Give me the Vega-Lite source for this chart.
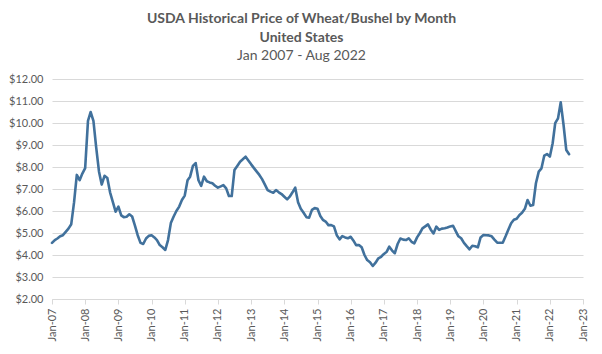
{
  "$schema": "https://vega.github.io/schema/vega-lite/v6.json",
  "autosize": {"type": "none"},
  "width": 531,
  "height": 220,
  "padding": {"left": 52, "top": 79, "right": 19, "bottom": 55},
  "background": "white",
  "title": {
    "text": ["USDA Historical Price of Wheat/Bushel by Month", "United States"],
    "subtitle": "Jan 2007 - Aug 2022",
    "font": "Lato",
    "subtitleFont": "Lato",
    "fontSize": 14,
    "subtitleFontSize": 14,
    "fontWeight": "bold",
    "subtitleFontWeight": "normal",
    "color": "#595959",
    "subtitleColor": "#595959",
    "lineHeight": 19,
    "subtitleLineHeight": 19,
    "subtitlePadding": 4,
    "anchor": "middle",
    "frame": "group",
    "dx": -16,
    "offset": 10
  },
  "config": {
    "view": {"stroke": null},
    "axis": {"labelFont": "Lato", "labelColor": "#595959", "labelFontSize": 11}
  },
  "data": {
    "values": [
      {"date": "2007-01-01T00:00:00", "price": 4.55},
      {"date": "2007-02-01T00:00:00", "price": 4.68},
      {"date": "2007-03-01T00:00:00", "price": 4.75},
      {"date": "2007-04-01T00:00:00", "price": 4.85},
      {"date": "2007-05-01T00:00:00", "price": 4.90},
      {"date": "2007-06-01T00:00:00", "price": 5.05},
      {"date": "2007-07-01T00:00:00", "price": 5.20},
      {"date": "2007-08-01T00:00:00", "price": 5.40},
      {"date": "2007-09-01T00:00:00", "price": 6.40},
      {"date": "2007-10-01T00:00:00", "price": 7.64},
      {"date": "2007-11-01T00:00:00", "price": 7.40},
      {"date": "2007-12-01T00:00:00", "price": 7.70},
      {"date": "2008-01-01T00:00:00", "price": 7.95},
      {"date": "2008-02-01T00:00:00", "price": 10.10},
      {"date": "2008-03-01T00:00:00", "price": 10.50},
      {"date": "2008-04-01T00:00:00", "price": 10.10},
      {"date": "2008-05-01T00:00:00", "price": 8.90},
      {"date": "2008-06-01T00:00:00", "price": 7.80},
      {"date": "2008-07-01T00:00:00", "price": 7.20},
      {"date": "2008-08-01T00:00:00", "price": 7.60},
      {"date": "2008-09-01T00:00:00", "price": 7.50},
      {"date": "2008-10-01T00:00:00", "price": 6.85},
      {"date": "2008-11-01T00:00:00", "price": 6.40},
      {"date": "2008-12-01T00:00:00", "price": 5.97},
      {"date": "2009-01-01T00:00:00", "price": 6.20},
      {"date": "2009-02-01T00:00:00", "price": 5.80},
      {"date": "2009-03-01T00:00:00", "price": 5.72},
      {"date": "2009-04-01T00:00:00", "price": 5.74},
      {"date": "2009-05-01T00:00:00", "price": 5.85},
      {"date": "2009-06-01T00:00:00", "price": 5.75},
      {"date": "2009-07-01T00:00:00", "price": 5.35},
      {"date": "2009-08-01T00:00:00", "price": 4.90},
      {"date": "2009-09-01T00:00:00", "price": 4.55},
      {"date": "2009-10-01T00:00:00", "price": 4.50},
      {"date": "2009-11-01T00:00:00", "price": 4.75},
      {"date": "2009-12-01T00:00:00", "price": 4.87},
      {"date": "2010-01-01T00:00:00", "price": 4.90},
      {"date": "2010-02-01T00:00:00", "price": 4.80},
      {"date": "2010-03-01T00:00:00", "price": 4.68},
      {"date": "2010-04-01T00:00:00", "price": 4.45},
      {"date": "2010-05-01T00:00:00", "price": 4.35},
      {"date": "2010-06-01T00:00:00", "price": 4.23},
      {"date": "2010-07-01T00:00:00", "price": 4.68},
      {"date": "2010-08-01T00:00:00", "price": 5.45},
      {"date": "2010-09-01T00:00:00", "price": 5.75},
      {"date": "2010-10-01T00:00:00", "price": 6.00},
      {"date": "2010-11-01T00:00:00", "price": 6.20},
      {"date": "2010-12-01T00:00:00", "price": 6.50},
      {"date": "2011-01-01T00:00:00", "price": 6.70},
      {"date": "2011-02-01T00:00:00", "price": 7.40},
      {"date": "2011-03-01T00:00:00", "price": 7.56},
      {"date": "2011-04-01T00:00:00", "price": 8.05},
      {"date": "2011-05-01T00:00:00", "price": 8.18},
      {"date": "2011-06-01T00:00:00", "price": 7.40},
      {"date": "2011-07-01T00:00:00", "price": 7.14},
      {"date": "2011-08-01T00:00:00", "price": 7.56},
      {"date": "2011-09-01T00:00:00", "price": 7.35},
      {"date": "2011-10-01T00:00:00", "price": 7.30},
      {"date": "2011-11-01T00:00:00", "price": 7.26},
      {"date": "2011-12-01T00:00:00", "price": 7.15},
      {"date": "2012-01-01T00:00:00", "price": 7.06},
      {"date": "2012-02-01T00:00:00", "price": 7.12},
      {"date": "2012-03-01T00:00:00", "price": 7.18},
      {"date": "2012-04-01T00:00:00", "price": 7.03},
      {"date": "2012-05-01T00:00:00", "price": 6.68},
      {"date": "2012-06-01T00:00:00", "price": 6.68},
      {"date": "2012-07-01T00:00:00", "price": 7.86},
      {"date": "2012-08-01T00:00:00", "price": 8.05},
      {"date": "2012-09-01T00:00:00", "price": 8.24},
      {"date": "2012-10-01T00:00:00", "price": 8.35},
      {"date": "2012-11-01T00:00:00", "price": 8.47},
      {"date": "2012-12-01T00:00:00", "price": 8.30},
      {"date": "2013-01-01T00:00:00", "price": 8.12},
      {"date": "2013-02-01T00:00:00", "price": 7.95},
      {"date": "2013-03-01T00:00:00", "price": 7.80},
      {"date": "2013-04-01T00:00:00", "price": 7.64},
      {"date": "2013-05-01T00:00:00", "price": 7.45},
      {"date": "2013-06-01T00:00:00", "price": 7.20},
      {"date": "2013-07-01T00:00:00", "price": 6.95},
      {"date": "2013-08-01T00:00:00", "price": 6.88},
      {"date": "2013-09-01T00:00:00", "price": 6.83},
      {"date": "2013-10-01T00:00:00", "price": 6.95},
      {"date": "2013-11-01T00:00:00", "price": 6.85},
      {"date": "2013-12-01T00:00:00", "price": 6.77},
      {"date": "2014-01-01T00:00:00", "price": 6.65},
      {"date": "2014-02-01T00:00:00", "price": 6.53},
      {"date": "2014-03-01T00:00:00", "price": 6.65},
      {"date": "2014-04-01T00:00:00", "price": 6.85},
      {"date": "2014-05-01T00:00:00", "price": 7.06},
      {"date": "2014-06-01T00:00:00", "price": 6.40},
      {"date": "2014-07-01T00:00:00", "price": 6.10},
      {"date": "2014-08-01T00:00:00", "price": 5.92},
      {"date": "2014-09-01T00:00:00", "price": 5.72},
      {"date": "2014-10-01T00:00:00", "price": 5.70},
      {"date": "2014-11-01T00:00:00", "price": 6.05},
      {"date": "2014-12-01T00:00:00", "price": 6.13},
      {"date": "2015-01-01T00:00:00", "price": 6.10},
      {"date": "2015-02-01T00:00:00", "price": 5.77},
      {"date": "2015-03-01T00:00:00", "price": 5.60},
      {"date": "2015-04-01T00:00:00", "price": 5.52},
      {"date": "2015-05-01T00:00:00", "price": 5.36},
      {"date": "2015-06-01T00:00:00", "price": 5.36},
      {"date": "2015-07-01T00:00:00", "price": 5.30},
      {"date": "2015-08-01T00:00:00", "price": 4.90},
      {"date": "2015-09-01T00:00:00", "price": 4.71},
      {"date": "2015-10-01T00:00:00", "price": 4.86},
      {"date": "2015-11-01T00:00:00", "price": 4.80},
      {"date": "2015-12-01T00:00:00", "price": 4.76},
      {"date": "2016-01-01T00:00:00", "price": 4.83},
      {"date": "2016-02-01T00:00:00", "price": 4.65},
      {"date": "2016-03-01T00:00:00", "price": 4.45},
      {"date": "2016-04-01T00:00:00", "price": 4.45},
      {"date": "2016-05-01T00:00:00", "price": 4.35},
      {"date": "2016-06-01T00:00:00", "price": 4.00},
      {"date": "2016-07-01T00:00:00", "price": 3.77},
      {"date": "2016-08-01T00:00:00", "price": 3.67},
      {"date": "2016-09-01T00:00:00", "price": 3.50},
      {"date": "2016-10-01T00:00:00", "price": 3.65},
      {"date": "2016-11-01T00:00:00", "price": 3.85},
      {"date": "2016-12-01T00:00:00", "price": 3.92},
      {"date": "2017-01-01T00:00:00", "price": 4.05},
      {"date": "2017-02-01T00:00:00", "price": 4.15},
      {"date": "2017-03-01T00:00:00", "price": 4.38},
      {"date": "2017-04-01T00:00:00", "price": 4.20},
      {"date": "2017-05-01T00:00:00", "price": 4.08},
      {"date": "2017-06-01T00:00:00", "price": 4.50},
      {"date": "2017-07-01T00:00:00", "price": 4.75},
      {"date": "2017-08-01T00:00:00", "price": 4.70},
      {"date": "2017-09-01T00:00:00", "price": 4.68},
      {"date": "2017-10-01T00:00:00", "price": 4.76},
      {"date": "2017-11-01T00:00:00", "price": 4.60},
      {"date": "2017-12-01T00:00:00", "price": 4.53},
      {"date": "2018-01-01T00:00:00", "price": 4.80},
      {"date": "2018-02-01T00:00:00", "price": 5.00},
      {"date": "2018-03-01T00:00:00", "price": 5.21},
      {"date": "2018-04-01T00:00:00", "price": 5.30},
      {"date": "2018-05-01T00:00:00", "price": 5.39},
      {"date": "2018-06-01T00:00:00", "price": 5.15},
      {"date": "2018-07-01T00:00:00", "price": 4.98},
      {"date": "2018-08-01T00:00:00", "price": 5.29},
      {"date": "2018-09-01T00:00:00", "price": 5.14},
      {"date": "2018-10-01T00:00:00", "price": 5.20},
      {"date": "2018-11-01T00:00:00", "price": 5.22},
      {"date": "2018-12-01T00:00:00", "price": 5.25},
      {"date": "2019-01-01T00:00:00", "price": 5.30},
      {"date": "2019-02-01T00:00:00", "price": 5.33},
      {"date": "2019-03-01T00:00:00", "price": 5.10},
      {"date": "2019-04-01T00:00:00", "price": 4.85},
      {"date": "2019-05-01T00:00:00", "price": 4.76},
      {"date": "2019-06-01T00:00:00", "price": 4.55},
      {"date": "2019-07-01T00:00:00", "price": 4.40},
      {"date": "2019-08-01T00:00:00", "price": 4.26},
      {"date": "2019-09-01T00:00:00", "price": 4.42},
      {"date": "2019-10-01T00:00:00", "price": 4.40},
      {"date": "2019-11-01T00:00:00", "price": 4.35},
      {"date": "2019-12-01T00:00:00", "price": 4.80},
      {"date": "2020-01-01T00:00:00", "price": 4.91},
      {"date": "2020-02-01T00:00:00", "price": 4.90},
      {"date": "2020-03-01T00:00:00", "price": 4.89},
      {"date": "2020-04-01T00:00:00", "price": 4.85},
      {"date": "2020-05-01T00:00:00", "price": 4.70},
      {"date": "2020-06-01T00:00:00", "price": 4.56},
      {"date": "2020-07-01T00:00:00", "price": 4.56},
      {"date": "2020-08-01T00:00:00", "price": 4.56},
      {"date": "2020-09-01T00:00:00", "price": 4.85},
      {"date": "2020-10-01T00:00:00", "price": 5.15},
      {"date": "2020-11-01T00:00:00", "price": 5.44},
      {"date": "2020-12-01T00:00:00", "price": 5.60},
      {"date": "2021-01-01T00:00:00", "price": 5.65},
      {"date": "2021-02-01T00:00:00", "price": 5.82},
      {"date": "2021-03-01T00:00:00", "price": 5.92},
      {"date": "2021-04-01T00:00:00", "price": 6.10},
      {"date": "2021-05-01T00:00:00", "price": 6.50},
      {"date": "2021-06-01T00:00:00", "price": 6.24},
      {"date": "2021-07-01T00:00:00", "price": 6.27},
      {"date": "2021-08-01T00:00:00", "price": 7.26},
      {"date": "2021-09-01T00:00:00", "price": 7.79},
      {"date": "2021-10-01T00:00:00", "price": 7.94},
      {"date": "2021-11-01T00:00:00", "price": 8.52},
      {"date": "2021-12-01T00:00:00", "price": 8.59},
      {"date": "2022-01-01T00:00:00", "price": 8.47},
      {"date": "2022-02-01T00:00:00", "price": 9.08},
      {"date": "2022-03-01T00:00:00", "price": 9.99},
      {"date": "2022-04-01T00:00:00", "price": 10.21},
      {"date": "2022-05-01T00:00:00", "price": 10.94},
      {"date": "2022-06-01T00:00:00", "price": 9.91},
      {"date": "2022-07-01T00:00:00", "price": 8.77},
      {"date": "2022-08-01T00:00:00", "price": 8.58}
    ]
  },
  "mark": {"type": "line", "color": "#41719c", "strokeWidth": 2.6, "strokeJoin": "round", "strokeCap": "round"},
  "encoding": {
    "x": {
      "field": "date",
      "type": "temporal",
      "scale": {"domain": [{"year": 2007, "month": 1, "date": 1}, {"year": 2023, "month": 1, "date": 1}]},
      "axis": {
        "title": null,
        "format": "%b-%y",
        "tickCount": {"interval": "year", "step": 1},
        "labelAngle": 270,
        "labelPadding": 4,
        "labelFlush": false,
        "labelOverlap": false,
        "grid": false,
        "domainColor": "#d9d9d9",
        "tickColor": "#d9d9d9",
        "tickSize": 5
      }
    },
    "y": {
      "field": "price",
      "type": "quantitative",
      "scale": {"domain": [2, 12], "nice": false, "zero": false},
      "axis": {
        "title": null,
        "values": [2, 3, 4, 5, 6, 7, 8, 9, 10, 11, 12],
        "format": "$.2f",
        "domain": false,
        "ticks": false,
        "labelPadding": 9,
        "gridColor": "#d9d9d9",
        "gridWidth": 1
      }
    }
  }
}
